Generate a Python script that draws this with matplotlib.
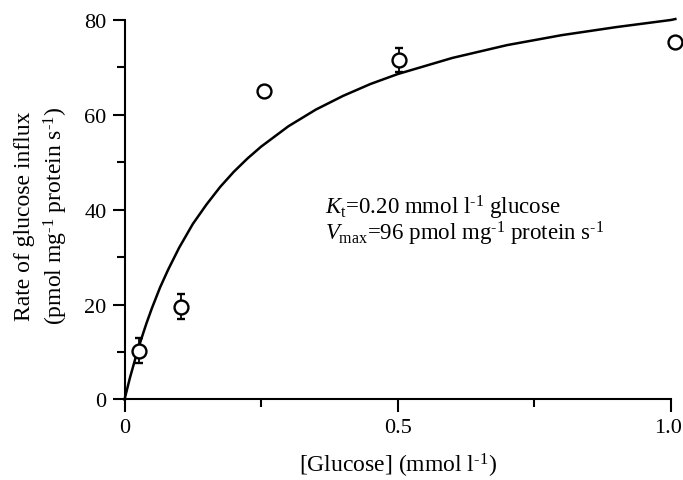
import matplotlib
matplotlib.use('Agg')
import matplotlib.pyplot as plt
import matplotlib.transforms as mtransforms

# measured points
glucose = [0.026, 0.103, 0.256, 0.503, 1.007]
influx = [10.3, 19.6, 65.0, 71.5, 75.4]
influx_err = [2.6, 2.6, 1.0, 2.5, 0.0]

# fitted curve
curve_x = [0.0, 0.005, 0.01, 0.02, 0.03, 0.04, 0.05, 0.065, 0.08, 0.1, 0.125,
           0.15, 0.175, 0.2, 0.225, 0.25, 0.3, 0.35, 0.4, 0.45, 0.5, 0.6, 0.7,
           0.8, 0.9, 1.0, 1.008]
curve_y = [0.0, 2.3, 4.6, 8.7, 12.5, 16.0, 19.2, 23.6, 27.4, 32.0, 37.0,
           41.1, 44.8, 48.0, 50.8, 53.3, 57.6, 61.1, 64.0, 66.5, 68.6, 72.0,
           74.7, 76.8, 78.5, 80.0, 80.2]

xticks = [0, 0.5, 1.0]
xtick_labels = ['0', '0.5', '1.0']
yticks = [0, 20, 40, 60, 80]

plt.rcParams['font.family'] = ['Liberation Serif', 'DejaVu Serif']
plt.rcParams['mathtext.fontset'] = 'custom'
plt.rcParams['mathtext.rm'] = 'Liberation Serif'
plt.rcParams['mathtext.it'] = 'Liberation Serif:italic'

fig = plt.figure(figsize=(6.83, 4.81), dpi=100)
ax = fig.add_axes([0.1823, 0.1674, 0.8001, 0.789])

ax.plot(curve_x, curve_y, color='black', lw=1.8, clip_on=False, zorder=2)
ax.errorbar(glucose, influx, yerr=influx_err, fmt='o', ms=10, mfc='white',
            mec='black', mew=1.7, ecolor='black', elinewidth=1.3, capsize=3,
            capthick=1.3, clip_on=False, zorder=3)

ax.set_xlim(0, 1.0)
ax.set_ylim(0, 80)
ax.set_xticks(xticks)
ax.set_xticklabels(xtick_labels)
ax.set_xticks([0.25, 0.75], minor=True)
ax.set_yticks(yticks)
ax.set_yticks([10, 30, 50, 70], minor=True)

for s in ['top', 'right']:
    ax.spines[s].set_visible(False)
for s in ['left', 'bottom']:
    ax.spines[s].set_linewidth(1.5)

ax.tick_params(which='major', direction='out', length=9, width=1.5,
               labelsize=16, pad=4)
ax.tick_params(which='minor', direction='out', length=6, width=1.5)

# nudge the last x tick label so it stays inside the figure
last = ax.get_xticklabels()[-1]
last.set_transform(last.get_transform() +
                   mtransforms.ScaledTranslation(-3 / 100, 0, fig.dpi_scale_trans))

sup = r'$^{\text{-1}}$'
ax.set_xlabel('[Glucose] (mmol l' + sup + ')', fontsize=17)
ax.xaxis.set_label_coords(0.5, -0.136)
ax.set_ylabel('Rate of glucose influx\n(pmol mg' + sup + ' protein s' + sup + ')',
              fontsize=17, linespacing=1.3)
ax.yaxis.set_label_coords(-0.10, 0.486)

ax.text(0.367, 39.2, r'$K_{\rm t}$=0.20 mmol l' + sup + ' glucose',
        fontsize=16.5, va='baseline', ha='left')
ax.text(0.367, 33.7, r'$V_{\rm max}$=96 pmol mg' + sup + ' protein s' + sup,
        fontsize=16.5, va='baseline', ha='left')

fig.savefig('out.png', dpi=100)
